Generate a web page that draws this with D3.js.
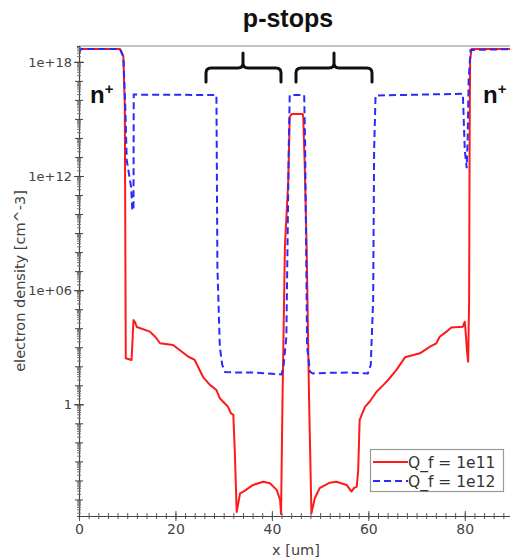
<!DOCTYPE html>
<html>
<head>
<meta charset="utf-8">
<script src="https://cdn.jsdelivr.net/npm/d3@7"></script>
<style>
  html, body { margin: 0; padding: 0; background: #fff; }
  svg { display: block; }
</style>
</head>
<body>
<svg id="chart" width="510" height="559"></svg>
<script>
// ---- data ----
const xTickValues = [0, 20, 40, 60, 80];
const yTickValues = [1, 1e6, 1e12, 1e18];
const yTickLabels = ["1", "1e+06", "1e+12", "1e+18"];
const seriesNames = ["Q_f = 1e11", "Q_f = 1e12"];

const redX = [0, 0.4, 8.5, 9.2, 9.5, 9.7, 10.9, 11.3, 11.6, 12.0, 14.7, 15.8, 16.8, 19.5, 22.7, 24.0, 25.7, 27.2, 28.5, 29.2, 30.9, 31.5, 32.0, 32.3, 32.7, 33.4, 34.1, 36.1, 38.2, 39.6, 41.0, 41.7, 41.9, 42.2, 42.7, 43.4, 43.7, 44.1, 46.4, 46.5, 46.8, 47.2, 47.7, 48.2, 48.9, 49.9, 52.0, 53.4, 55.5, 56.5, 57.0, 57.6, 57.9, 58.2, 59.3, 60.3, 61.7, 63.1, 64.1, 65.8, 67.6, 70.7, 72.8, 74.1, 74.8, 76.2, 77.2, 79.6, 80.0, 80.2, 80.5, 80.7, 80.9, 81.0, 81.1, 81.4, 90];
const redY = [2.9e18, 4.7e18, 4.7e18, 1.9e18, 4.4e15, 263, 214, 2.7e4, 2.1e4, 1.15e4, 6600, 3550, 1620, 1320, 316, 214, 28, 10.2, 5.6, 2.1, 0.74, 0.34, 0.28, 0.004, 2.2e-6, 2.1e-5, 2.6e-5, 5.8e-5, 8.5e-5, 7.1e-5, 3.2e-5, 9.3e-6, 1.7e-6, 1.7, 1.9e8, 6.2e11, 1.3e15, 1.8e15, 1.8e15, 1.3e15, 4.6e12, 1.9e8, 2.5, 1.9e-6, 1.15e-5, 3.9e-5, 7.6e-5, 8.5e-5, 5.8e-5, 2.6e-5, 3.9e-5, 4.7e-5, 3.5e-4, 0.15, 0.74, 1.4, 4.6, 10.2, 19, 63, 295, 479, 1070, 1620, 3550, 6600, 1.1e4, 1.2e4, 2.2e4, 5400, 479, 174, 3.0e5, 2.3e13, 1.2e18, 4.7e18, 4.7e18];

const blueX = [0, 0.4, 8.5, 9.2, 9.6, 9.9, 10.8, 11.05, 11.3, 11.35, 11.5, 28.5, 28.7, 29.2, 29.7, 30.3, 33, 36, 39, 42.0, 42.4, 43.0, 43.5, 43.7, 46.7, 46.9, 47.3, 47.9, 48.5, 52, 56, 59.9, 60.5, 61.0, 61.2, 61.5, 79.6, 80.0, 80.4, 80.6, 80.8, 81.2, 90];
const blueY = [2.9e18, 4.7e18, 4.7e18, 1.9e18, 4.4e15, 6.9e12, 2.7e11, 1.6e10, 1.6e10, 1.9e16, 1.9e16, 1.8e16, 1.7e7, 1070, 117, 50, 47, 47, 42, 37, 95, 3500, 3.5e13, 1.8e16, 1.8e16, 3.5e13, 1070, 51, 42, 45, 47, 42, 117, 3.0e5, 2.3e13, 1.7e16, 2.1e16, 2.3e13, 2.6e12, 8e13, 1.1e17, 4.2e18, 4.7e18];

// ---- layout ----
const svg = d3.select("#chart");
const pL = 79, pR = 513, pT = 46, pB = 516;
const x = d3.scaleLinear().domain([0, 90]).range([pL, pR]);
const y = d3.scaleLog().domain([1.35e-6, 6.8e18]).range([pB, pT]);
const FONT = "DejaVu Sans, Liberation Sans, Arial, sans-serif";

// top frame line
svg.append("line").attr("x1", pL).attr("x2", 510).attr("y1", pT).attr("y2", pT)
  .attr("stroke", "#b0b0b0").attr("stroke-width", 1.5);

// clip
svg.append("defs").append("clipPath").attr("id", "clip")
  .append("rect").attr("x", pL).attr("y", pT - 4).attr("width", pR - pL).attr("height", pB - pT + 4);

// curves
const line = d3.line().x(d => x(d[0])).y(d => y(d[1]));
const redData = redX.map((v, i) => [v, redY[i]]);
const blueData = blueX.map((v, i) => [v, blueY[i]]);
const plot = svg.append("g").attr("clip-path", "url(#clip)");
plot.append("path").datum(redData).attr("d", line).attr("fill", "none")
  .attr("stroke", "#ff1a1a").attr("stroke-width", 2).attr("stroke-linejoin", "round");
plot.append("path").datum(blueData).attr("d", line).attr("fill", "none")
  .attr("stroke", "#2a2aff").attr("stroke-width", 2).attr("stroke-dasharray", "7,4");

// x axis
const xMinor = d3.range(0, 91, 2);
const xAxisG = svg.append("g").attr("transform", `translate(0,${pB})`);
xAxisG.call(d3.axisBottom(x).tickValues(xMinor).tickSize(3).tickFormat(""));
xAxisG.selectAll(".tick line").attr("y1", -3).attr("stroke", "#555");
const xMajorG = svg.append("g").attr("transform", `translate(0,${pB})`);
xMajorG.call(d3.axisBottom(x).tickValues(xTickValues).tickSize(5).tickPadding(3));
xMajorG.select(".domain").remove();
xMajorG.selectAll(".tick line").attr("y1", -5).attr("stroke", "#555");
xMajorG.selectAll(".tick text").attr("font-family", FONT).attr("font-size", 14).attr("fill", "#444");
xAxisG.select(".domain").attr("stroke", "#444").attr("stroke-width", 1.2);

// y axis
const minor = [];
for (let d = -6; d <= 18; d++) for (let k = 2; k <= 9; k++) {
  const v = k * Math.pow(10, d);
  if (v >= y.domain()[0] && v <= y.domain()[1]) minor.push(v);
}
const decades = [];
for (let d = -5; d <= 18; d++) decades.push(Math.pow(10, d));
const yMinorG = svg.append("g").attr("transform", `translate(${pL},0)`);
yMinorG.call(d3.axisLeft(y).tickValues(minor).tickSize(2).tickFormat(""));
yMinorG.selectAll(".tick line").attr("x2", -2).attr("x1", 2).attr("stroke", "#777");
yMinorG.select(".domain").attr("stroke", "#444").attr("stroke-width", 1.2);
const yDecG = svg.append("g").attr("transform", `translate(${pL},0)`);
yDecG.call(d3.axisLeft(y).tickValues(decades).tickSize(4).tickFormat(""));
yDecG.select(".domain").remove();
yDecG.selectAll(".tick line").attr("x1", 4).attr("stroke", "#444");
const yLabG = svg.append("g").attr("transform", `translate(${pL},0)`);
yLabG.call(d3.axisLeft(y).tickValues(yTickValues).tickSize(5).tickPadding(2)
  .tickFormat(d => yTickLabels[yTickValues.indexOf(d)]));
yLabG.select(".domain").remove();
yLabG.selectAll(".tick line").attr("x1", 5).attr("stroke", "#444");
yLabG.selectAll(".tick text").attr("font-family", FONT).attr("font-size", 13).attr("fill", "#444");

// axis titles
svg.append("text").attr("x", (pL + pR) / 2).attr("y", 555).attr("text-anchor", "middle")
  .attr("font-family", FONT).attr("font-size", 14.5).attr("fill", "#444").text("x [um]");
svg.append("text").attr("transform", `translate(25,${(pT + pB) / 2}) rotate(-90)`)
  .attr("text-anchor", "middle").attr("font-family", FONT).attr("font-size", 14.5)
  .attr("fill", "#444").text("electron density [cm^-3]");

// legend
const lg = svg.append("g");
lg.append("rect").attr("x", 370.5).attr("y", 449.5).attr("width", 133).attr("height", 42)
  .attr("fill", "#fff").attr("stroke", "#999").attr("stroke-width", 1.2);
const legendColors = ["#ff1a1a", "#2a2aff"];
const legendDash = [null, "7,4"];
seriesNames.forEach((name, i) => {
  const yy = 462 + i * 19;
  lg.append("line").attr("x1", 373).attr("x2", 408).attr("y1", yy).attr("y2", yy)
    .attr("stroke", legendColors[i]).attr("stroke-width", 2)
    .attr("stroke-dasharray", legendDash[i]);
  lg.append("text").attr("x", 408).attr("y", yy + 5.5).attr("font-family", FONT)
    .attr("font-size", 15.5).attr("fill", "#333").text(name);
});

// annotations
const ANN = "Liberation Sans, Arial, sans-serif";
svg.append("text").attr("x", 288).attr("y", 27).attr("text-anchor", "middle")
  .attr("font-family", ANN).attr("font-weight", "bold").attr("font-size", 25).attr("fill", "#111")
  .text("p-stops");
function brace(x0, x1, xm) {
  const yT = 53, yH = 68, yB = 82, r = 5;
  const p = `M${x0},${yB} L${x0},${yH + r} Q${x0},${yH} ${x0 + r},${yH} L${xm - r},${yH} Q${xm},${yH} ${xm},${yH - r} L${xm},${yT}` +
    ` M${xm},${yH - r} Q${xm},${yH} ${xm + r},${yH} L${x1 - r},${yH} Q${x1},${yH} ${x1},${yH + r} L${x1},${yB}`;
  svg.append("path").attr("d", p).attr("fill", "none").attr("stroke", "#111").attr("stroke-width", 3)
    .attr("stroke-linecap", "round");
}
brace(206, 281, 243);
brace(296, 372, 334);
function nplus(xp) {
  const t = svg.append("text").attr("x", xp).attr("y", 103).attr("font-family", ANN)
    .attr("font-weight", "bold").attr("font-size", 24).attr("fill", "#111");
  t.append("tspan").text("n");
  t.append("tspan").attr("font-size", 15).attr("dy", -9).text("+");
}
nplus(90);
nplus(483);
</script>
</body>
</html>
